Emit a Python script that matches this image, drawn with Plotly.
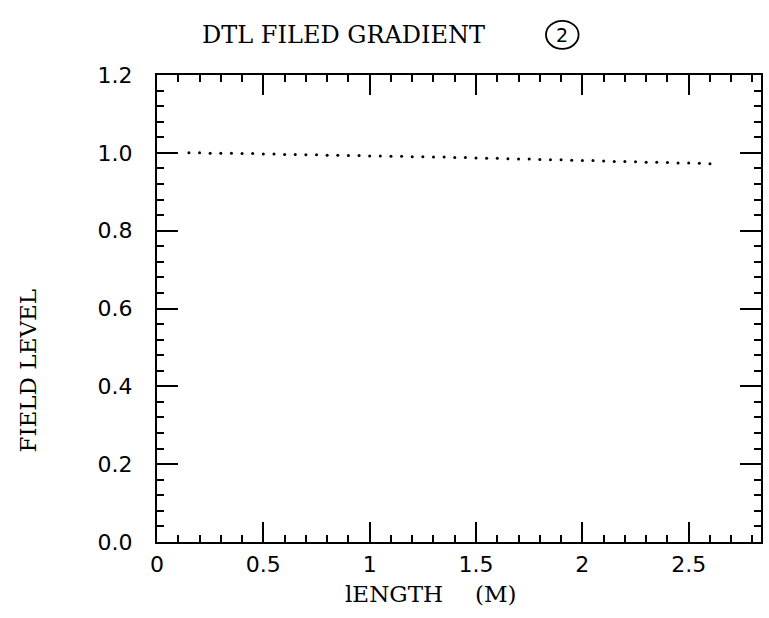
import plotly.graph_objects as go

length_m = [0.15, 0.20, 0.25, 0.30, 0.35, 0.40, 0.45, 0.50, 0.55, 0.60,
            0.65, 0.70, 0.75, 0.80, 0.85, 0.90, 0.95, 1.00, 1.05, 1.10,
            1.15, 1.20, 1.25, 1.30, 1.35, 1.40, 1.45, 1.50, 1.55, 1.60,
            1.65, 1.70, 1.75, 1.80, 1.85, 1.90, 1.95, 2.00, 2.05, 2.10,
            2.15, 2.20, 2.25, 2.30, 2.35, 2.40, 2.45, 2.50, 2.55, 2.60]
field_level = [1.000, 1.000, 0.999, 0.999, 0.999, 0.998, 0.998, 0.997, 0.997, 0.996,
               0.996, 0.995, 0.995, 0.994, 0.994, 0.993, 0.993, 0.992, 0.992, 0.991,
               0.991, 0.990, 0.990, 0.989, 0.989, 0.988, 0.988, 0.987, 0.986, 0.986,
               0.985, 0.984, 0.984, 0.983, 0.982, 0.982, 0.981, 0.980, 0.980, 0.979,
               0.978, 0.978, 0.977, 0.976, 0.976, 0.975, 0.974, 0.974, 0.973, 0.972]

x_ticks = [0, 0.5, 1, 1.5, 2, 2.5]
x_ticklabels = ["0", "0.5", "1", "1.5", "2", "2.5"]
y_ticks = [0.0, 0.2, 0.4, 0.6, 0.8, 1.0, 1.2]
y_ticklabels = ["0.0", "0.2", "0.4", "0.6", "0.8", "1.0", "1.2"]

fig = go.Figure()
fig.add_trace(go.Scatter(x=length_m, y=field_level, mode="markers",
                         marker=dict(size=3, color="black"), showlegend=False,
                         hoverinfo="x+y"))

serif = "DejaVu Serif"
sans = "DejaVu Sans"

fig.update_layout(
    width=769, height=618,
    margin=dict(l=157, r=6, t=75, b=76),
    paper_bgcolor="white", plot_bgcolor="white",
    xaxis=dict(range=[0, 2.84], showgrid=False, zeroline=False,
               showline=True, linecolor="black", linewidth=2, mirror="ticks",
               ticks="inside", ticklen=20, tickwidth=2, tickcolor="black",
               tickvals=x_ticks, ticktext=x_ticklabels,
               tickfont=dict(family=sans, size=22, color="black"),
               ticklabelstandoff=2,
               minor=dict(dtick=0.1, tick0=0, ticks="inside", ticklen=7,
                          tickwidth=1.5, tickcolor="black")),
    yaxis=dict(range=[0, 1.2], showgrid=False, zeroline=False,
               showline=True, linecolor="black", linewidth=2, mirror="ticks",
               ticks="inside", ticklen=21, tickwidth=2, tickcolor="black",
               tickvals=y_ticks, ticktext=y_ticklabels,
               tickfont=dict(family=sans, size=22, color="black"),
               ticklabelstandoff=18,
               minor=dict(dtick=0.04, tick0=0, ticks="inside", ticklen=7,
                          tickwidth=1.5, tickcolor="black")),
    shapes=[
        dict(type="circle", xref="paper", yref="paper",
             x0=0.644, x1=0.698, y0=1.056, y1=1.116,
             line=dict(color="black", width=1.8)),
    ],
    annotations=[
        dict(text="DTL FILED GRADIENT", xref="paper", yref="paper",
             x=0.309, y=1.086, xanchor="center", yanchor="middle",
             showarrow=False, font=dict(family=serif, size=24, color="black")),
        dict(text="2", xref="paper", yref="paper",
             x=0.671, y=1.086, xanchor="center", yanchor="middle",
             showarrow=False, font=dict(family="DejaVu Sans", size=19, color="black")),
        dict(text="lENGTH", xref="paper", yref="paper",
             x=0.393, y=-0.112, xanchor="center", yanchor="middle",
             showarrow=False, font=dict(family=serif, size=23, color="black")),
        dict(text="(M)", xref="paper", yref="paper",
             x=0.561, y=-0.112, xanchor="center", yanchor="middle",
             showarrow=False, font=dict(family=serif, size=23, color="black")),
        dict(text="FIELD LEVEL", xref="paper", yref="paper",
             x=-0.213, y=0.368, xanchor="center", yanchor="middle", textangle=-90,
             showarrow=False, font=dict(family=serif, size=23, color="black")),
    ],
)

fig.write_html("out.html")
